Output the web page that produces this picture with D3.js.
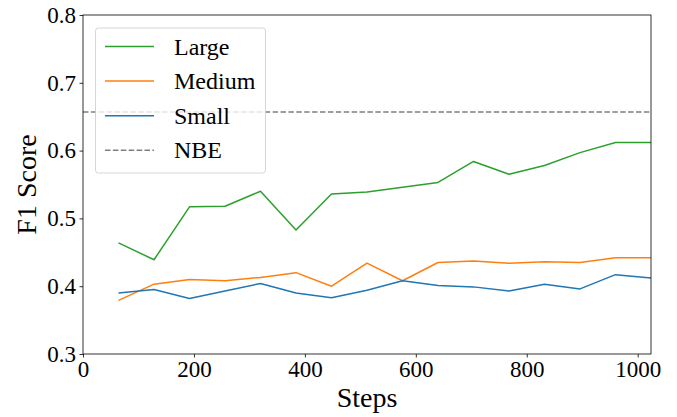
<!DOCTYPE html>
<html><head><meta charset="utf-8">
<script src="https://cdn.jsdelivr.net/npm/d3@7"></script>
<style>body{margin:0;background:#fff}svg{display:block}text{font-family:"Liberation Serif","Times New Roman",serif}</style>
</head><body><svg id="c" width="677" height="417"></svg>
<script>
const steps = [64,128,192,256,320,384,448,512,576,640,704,768,832,896,960,1024];
const large = [0.464,0.439,0.517,0.518,0.540,0.483,0.536,0.539,0.546,0.553,0.584,0.565,0.578,0.597,0.612,0.612];
const medium = [0.379,0.403,0.410,0.408,0.413,0.420,0.400,0.434,0.408,0.435,0.437,0.434,0.436,0.435,0.442,0.442];
const small = [0.390,0.395,0.382,0.393,0.404,0.390,0.383,0.394,0.408,0.401,0.399,0.393,0.403,0.396,0.417,0.412];
const nbe = 0.657;
const xTicks = [0,200,400,600,800,1000];
const yTicks = [0.3,0.4,0.5,0.6,0.7,0.8];
const seriesNames = ["Large","Medium","Small","NBE"];
const colors = ["#2ca02c","#ff7f0e","#1f77b4","#7f7f7f"];

const m = {l:83, r:651, t:15, b:354};
const svg = d3.select("#c");
const x = d3.scaleLinear().domain([0,1024]).range([m.l,m.r]);
const y = d3.scaleLinear().domain([0.3,0.8]).range([m.b,m.t]);

const line = d3.line().x((d,i)=>x(steps[i])).y(d=>y(d));
svg.append("clipPath").attr("id","clp").append("rect")
  .attr("x",m.l).attr("y",m.t).attr("width",m.r-m.l).attr("height",m.b-m.t);
const g = svg.append("g").attr("clip-path","url(#clp)");
[large,medium,small].forEach((s,k)=>{
  g.append("path").attr("d",line(s)).attr("fill","none").attr("stroke",colors[k]).attr("stroke-width",1.5).attr("stroke-linejoin","round");
});
g.append("line").attr("x1",m.l).attr("x2",m.r).attr("y1",y(nbe)).attr("y2",y(nbe))
  .attr("stroke",colors[3]).attr("stroke-width",1.5).attr("stroke-dasharray","5.5,2.4");

svg.append("rect").attr("x",m.l).attr("y",m.t).attr("width",m.r-m.l).attr("height",m.b-m.t)
  .attr("fill","none").attr("stroke","#000").attr("stroke-width",0.8);

const xa = svg.append("g").attr("transform",`translate(0,${m.b})`)
  .call(d3.axisBottom(x).tickValues(xTicks).tickSize(3.5).tickPadding(3.5).tickFormat(d3.format("d")));
const ya = svg.append("g").attr("transform",`translate(${m.l},0)`)
  .call(d3.axisLeft(y).tickValues(yTicks).tickSize(3.5).tickPadding(3.5).tickFormat(d3.format(".1f")));
[xa,ya].forEach(a=>{
  a.select(".domain").remove();
  a.selectAll(".tick line").attr("stroke","#000").attr("stroke-width",0.8);
  a.selectAll(".tick text").attr("font-size",23).attr("fill","#000");
});

svg.append("text").attr("x",(m.l+m.r)/2).attr("y",407).attr("text-anchor","middle")
  .attr("font-size",28).text("Steps");
svg.append("text").attr("transform",`translate(36,${(m.t+m.b)/2}) rotate(-90)`).attr("text-anchor","middle")
  .attr("font-size",28).text("F1 Score");

const lg = svg.append("g");
lg.append("rect").attr("x",95.5).attr("y",28).attr("width",170).attr("height",145).attr("rx",3)
  .attr("fill","#fff").attr("fill-opacity",0.8).attr("stroke","#ccc").attr("stroke-width",0.8);
seriesNames.forEach((n,i)=>{
  const yy = 46.5 + i*34.6;
  lg.append("line").attr("x1",105).attr("x2",154).attr("y1",yy).attr("y2",yy)
    .attr("stroke",colors[i]).attr("stroke-width",1.5).attr("stroke-dasharray",i===3?"5.5,2.4":null);
  lg.append("text").attr("x",174).attr("y",yy+8).attr("font-size",24).text(n);
});
</script></body></html>
